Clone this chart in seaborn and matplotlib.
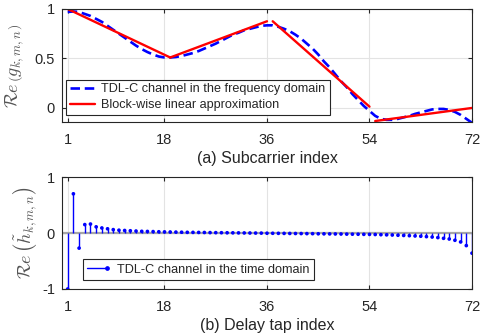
import numpy as np
import pandas as pd
import matplotlib
matplotlib.use("Agg")
import matplotlib.pyplot as plt
from matplotlib.lines import Line2D
from matplotlib.legend_handler import HandlerLine2D
import seaborn as sns

# ---------------- data ----------------
subcarrier = list(range(1, 73))
freq_response = [
    0.97, 0.975, 0.97, 0.95, 0.93, 0.90, 0.87, 0.83, 0.79, 0.75,
    0.71, 0.67, 0.63, 0.595, 0.565, 0.54, 0.52, 0.51, 0.51, 0.515,
    0.525, 0.54, 0.555, 0.575, 0.60, 0.625, 0.65, 0.68, 0.71, 0.74,
    0.76, 0.785, 0.80, 0.815, 0.83, 0.835, 0.835, 0.82, 0.80, 0.775,
    0.74, 0.70, 0.65, 0.60, 0.54, 0.47, 0.41, 0.34, 0.27, 0.21,
    0.14, 0.08, 0.02, -0.03, -0.08, -0.11, -0.12, -0.12, -0.11, -0.095,
    -0.08, -0.06, -0.045, -0.03, -0.015, -0.01, -0.01, -0.02, -0.04, -0.07,
    -0.11, -0.15,
]
block_start_x = [1, 19, 37, 55]
block_end_x = [19, 36, 54, 72]
block_start_y = [1.0, 0.51, 0.876, -0.132]
block_end_y = [0.51, 0.876, 0.013, 0.0]

delay_tap = list(range(1, 73))
time_response = [
    -1.0, 0.70, -0.27, 0.15, 0.16, 0.11, 0.09, 0.075, 0.06, 0.05,
    0.045, 0.04, 0.035, 0.03, 0.028, 0.025, 0.022, 0.02, 0.018, 0.016,
    0.014, 0.012, 0.011, 0.01, 0.009, 0.007, 0.006, 0.005, 0.004, 0.003,
    0.002, 0.001, 0.0, -0.001, -0.002, -0.004, -0.005, -0.006, -0.007, -0.008,
    -0.009, -0.01, -0.011, -0.012, -0.014, -0.015, -0.016, -0.017, -0.018, -0.02,
    -0.021, -0.022, -0.024, -0.025, -0.027, -0.03, -0.033, -0.036, -0.04, -0.044,
    -0.048, -0.053, -0.058, -0.065, -0.072, -0.082, -0.095, -0.107, -0.13, -0.16,
    -0.225, -0.36,
]
xtick_vals = [1, 18, 36, 54, 72]

# ---------------- style ----------------
sns.set_theme(style="white")
plt.rcParams['font.family'] = ['Liberation Sans', 'DejaVu Sans']
plt.rcParams['mathtext.fontset'] = 'cm'
TXT = '#262626'

fig = plt.figure(figsize=(4.84, 3.36), dpi=100)
ax1 = fig.add_axes([62/484, 1-122/336, 410/484, 113/336])
ax2 = fig.add_axes([62/484, 1-289/336, 410/484, 112/336])

DASH = (0, (3.6, 1.8))

# ---------------- top panel ----------------
df_f = pd.DataFrame({'x': subcarrier, 'y': freq_response})
sns.lineplot(data=df_f, x='x', y='y', ax=ax1, color=(0, 0, 1), lw=1.9,
             linestyle=DASH, label='TDL-C channel in the frequency domain')
seg_rows = []
for i in range(len(block_start_x)):
    seg_rows.append({'seg': i, 'x': block_start_x[i], 'y': block_start_y[i]})
    seg_rows.append({'seg': i, 'x': block_end_x[i], 'y': block_end_y[i]})
df_s = pd.DataFrame(seg_rows)
sns.lineplot(data=df_s, x='x', y='y', units='seg', estimator=None, ax=ax1,
             color=(1, 0, 0), lw=1.7)

ax1.set_xlim(0, 72)
ax1.set_ylim(-0.142, 1.0)
ax1.set_yticks([0, 0.5, 1])
ax1.set_yticklabels(['0', '0.5', '1'])
ax1.set_xlabel('(a) Subcarrier index', fontsize=11.5, color=TXT, labelpad=3)
ax1.set_ylabel(r'$\mathcal{R}e\,\left(g_{k,m,n}\right)$', fontsize=13, color='#555555', labelpad=6)

handles1 = [Line2D([], [], color=(0, 0, 1), lw=1.9, linestyle=DASH),
            Line2D([], [], color=(1, 0, 0), lw=1.7)]
leg1 = ax1.legend(handles1, ['TDL-C channel in the frequency domain',
                             'Block-wise linear approximation'],
                  loc='lower left', bbox_to_anchor=(0.01, 0.062), fontsize=9.1,
                  frameon=True, fancybox=False, edgecolor='#262626', framealpha=1,
                  handlelength=2.0, handletextpad=0.5, borderpad=0.3,
                  labelspacing=0.3, borderaxespad=0)
leg1.get_frame().set_linewidth(0.8)

# ---------------- bottom panel ----------------
ax2.axhline(0, color='#a6a6a6', lw=1.6, zorder=1)
ax2.vlines(delay_tap, 0, time_response, color=(0, 0, 1), lw=1.0, zorder=2)
df_t = pd.DataFrame({'x': delay_tap, 'y': time_response})
sns.scatterplot(data=df_t, x='x', y='y', ax=ax2, color=(0, 0, 1), s=7,
                edgecolor='none', zorder=3, legend=False)
ax2.set_xlim(0, 72)
ax2.set_ylim(-1, 1)
ax2.set_yticks([-1, 0, 1])
ax2.set_yticklabels(['-1', '0', '1'])
ax2.set_xlabel('(b) Delay tap index', fontsize=11.5, color=TXT, labelpad=3)
ax2.set_ylabel(r'$\mathcal{R}e\,\left(\tilde{h}_{k,m,n}\right)$', fontsize=13, color='#555555', labelpad=2)


class EndMarker(HandlerLine2D):
    def create_artists(self, legend, orig_handle, xdescent, ydescent, width,
                       height, fontsize, trans):
        arts = super().create_artists(legend, orig_handle, xdescent, ydescent,
                                      width, height, fontsize, trans)
        for a in arts:
            if isinstance(a, Line2D):
                a.set_markevery([2])
        return arts


stem_h = Line2D([], [], color=(0, 0, 1), lw=1.0, marker='o', markersize=2.4)
leg2 = ax2.legend([stem_h], ['TDL-C channel in the time domain'],
                  handler_map={stem_h: EndMarker(numpoints=1)},
                  loc='lower left', bbox_to_anchor=(0.05, 0.08), fontsize=9.1,
                  frameon=True, fancybox=False, edgecolor='#262626', framealpha=1,
                  handlelength=1.6, handletextpad=0.8, borderpad=0.35,
                  borderaxespad=0)
leg2.get_frame().set_linewidth(0.8)

for ax in (ax1, ax2):
    ax.set_xticks(xtick_vals)
    ax.set_xticklabels([str(v) for v in xtick_vals])
    ax.grid(True, color='#e3e3e3', lw=0.8)
    ax.set_axisbelow(True)
    for s in ax.spines.values():
        s.set_color('#262626')
        s.set_linewidth(0.8)
        s.set_visible(True)
    ax.tick_params(axis='both', direction='in', length=3, width=0.8,
                   colors=TXT, labelsize=10.5, top=True, right=True,
                   bottom=True, left=True, pad=5)
    ax.tick_params(axis='x', pad=8)

fig.savefig('out.png', dpi=100)
